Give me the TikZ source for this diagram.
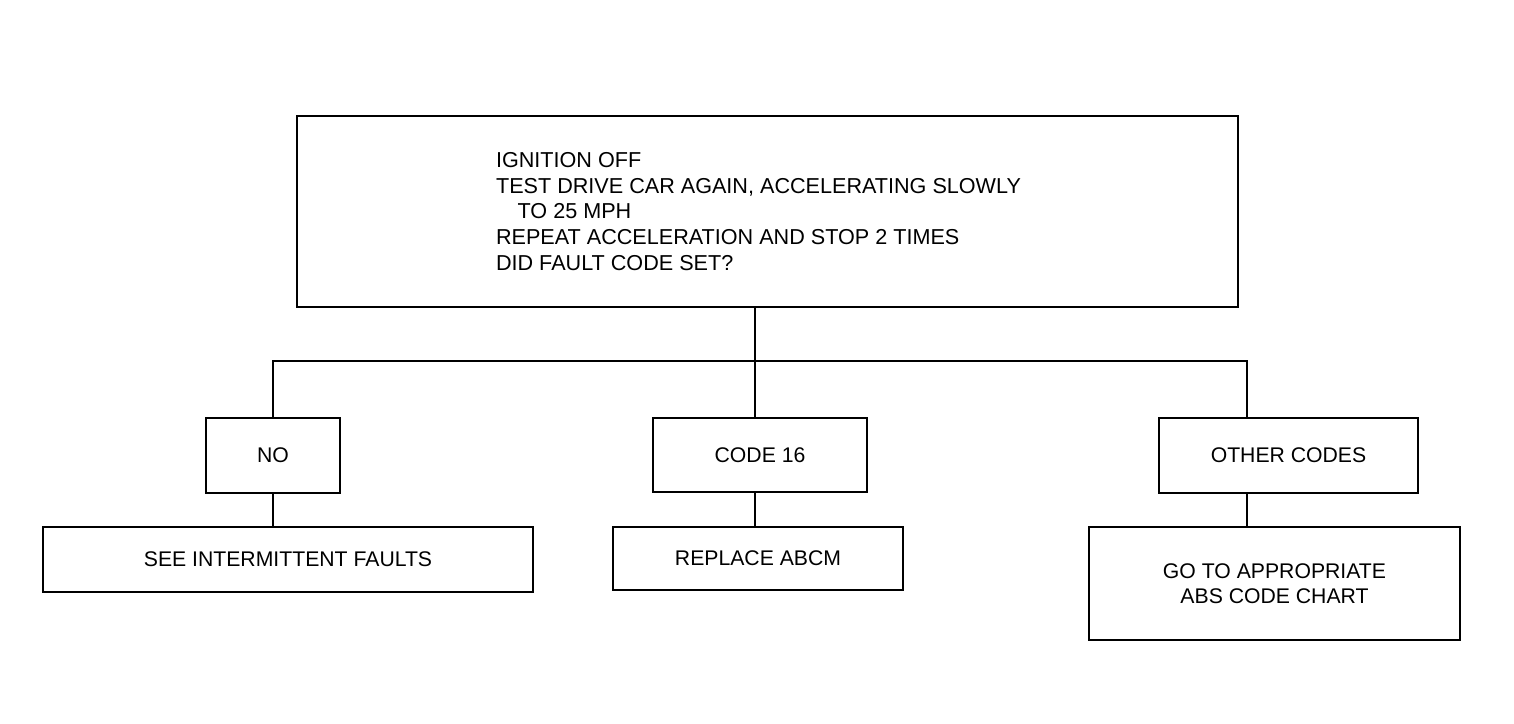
\documentclass[tikz,border=0pt]{standalone}
\usepackage{fontspec}
\setmainfont{Liberation Sans}
\usetikzlibrary{calc}

\begin{document}
\begin{tikzpicture}[x=0.5pt,y=-0.5pt,line cap=round,
        box/.style={draw,line width=1.2pt,rectangle,inner sep=0pt,
                font=\fontsize{10.6}{12.75}\selectfont},
        link/.style={line width=0.9pt}]
        % keep the page as large as the chart
        \useasboundingbox (0,0) rectangle (1514,723);
        % draw the question box
        \node[box,minimum width=470.5pt,minimum height=95.5pt,align=left,
                font=\fontsize{10.8}{12.9}\selectfont] (test) at (767.5,211.5)
                {IGNITION OFF\\
                TEST DRIVE CAR AGAIN, ACCELERATING SLOWLY\kern9pt\hbox{}\\
                \hspace*{1em}TO 25 MPH\\
                REPEAT ACCELERATION AND STOP 2 TIMES\\
                DID FAULT CODE SET?};
        % draw the answers
        \node[box,minimum width=67pt,minimum height=37.5pt] (no) at (273,455.5) {NO};
        \node[box,minimum width=107pt,minimum height=37pt] (code) at (760,455) {CODE 16};
        \node[box,minimum width=129.5pt,minimum height=37.5pt] (other) at (1288.5,455.5) {OTHER CODES};
        % draw the actions
        \node[box,minimum width=245pt,minimum height=32.5pt] (faults) at (288,559.5) {SEE INTERMITTENT FAULTS};
        \node[box,minimum width=145pt,minimum height=31.5pt] (abcm) at (758,558.5) {REPLACE ABCM};
        \node[box,minimum width=185.5pt,minimum height=56.5pt,align=center] (chart) at (1274.5,583.5)
                {GO TO APPROPRIATE\\ABS CODE CHART};
        % draw the branch lines
        \coordinate (bus) at (755,361);
        \coordinate (busL) at (273,361);
        \coordinate (busR) at (1247,361);
        \draw[link] (bus |- test.south) -- (bus);
        \draw[link] (no.north) -- (busL) -- (busR) -- (busR |- other.north);
        \draw[link] (bus) -- (bus |- code.north);
        \draw[link] (no.south) -- (no.south |- faults.north);
        \draw[link] (bus |- code.south) -- (bus |- abcm.north);
        \draw[link] (busR |- other.south) -- (busR |- chart.north);
\end{tikzpicture}
\end{document}
